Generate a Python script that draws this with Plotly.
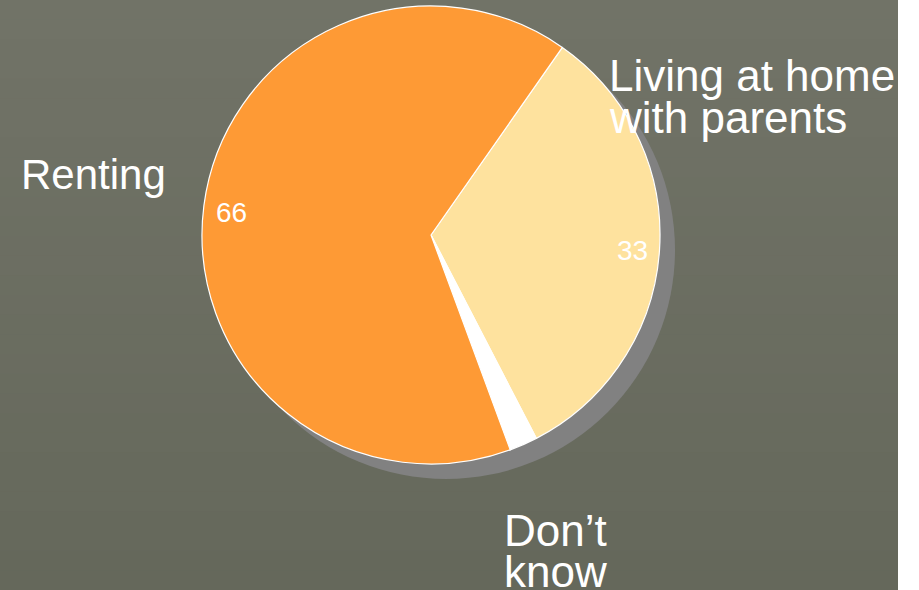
import plotly.graph_objects as go

W, H = 919, 590

categories = ["Living at home with parents", "Don't know", "Renting"]
values = [33, 2, 66]
value_labels = ["33", "", "66"]
colors = ["#FEE29E", "#FFFFFF", "#FE9A35"]

def px_x(x):
    return x / W

def px_y(y):
    return 1 - y / H

fig = go.Figure()

# shadow pie
fig.add_trace(go.Pie(
    values=[1], labels=["shadow"], marker=dict(colors=["#818181"], line=dict(width=0)),
    textinfo="none", hoverinfo="skip", sort=False, showlegend=False,
    domain=dict(x=[px_x(217), px_x(675)], y=[px_y(479), px_y(21)]),
))

fig.add_trace(go.Pie(
    values=values, labels=categories, marker=dict(colors=colors, line=dict(color="white", width=1.2)),
    textinfo="none", sort=False, direction="clockwise", rotation=35, showlegend=False,
    domain=dict(x=[px_x(202), px_x(660)], y=[px_y(464), px_y(6)]),
))

# background with gradient bands
top = (113, 115, 103)
bot = (101, 104, 91)
n = 30
shapes = []
for i in range(n):
    t = i / (n - 1)
    c = tuple(int(round(top[k] + (bot[k] - top[k]) * t)) for k in range(3))
    shapes.append(dict(type="rect", xref="paper", yref="paper",
                       x0=0, x1=px_x(898), y0=px_y((i + 1) * H / n + 1), y1=px_y(i * H / n),
                       fillcolor="rgb(%d,%d,%d)" % c, line=dict(width=0), layer="below"))

fam = "Liberation Sans, Arial, sans-serif"

label_lines = [
    ("Renting", 19, 174, 42),
    ("Living at home", 607, 76, 44),
    ("with parents", 607, 118, 44),
    ("Don\u2019t", 502, 530, 44),
    ("know", 502, 571, 44),
]
annotations = []
for txt, x, y, sz in label_lines:
    annotations.append(dict(text=txt, x=px_x(x), y=px_y(y), xref="paper", yref="paper",
                            xanchor="left", yanchor="middle", showarrow=False,
                            font=dict(family=fam, size=sz, color="white")))

value_pos = [(632, 250), None, (231, 212)]
for lab, pos in zip(value_labels, value_pos):
    if pos is None or not lab:
        continue
    annotations.append(dict(text=lab, x=px_x(pos[0]), y=px_y(pos[1]), xref="paper", yref="paper",
                            xanchor="center", yanchor="middle", showarrow=False,
                            font=dict(family=fam, size=28, color="white")))

fig.update_layout(
    width=W, height=H, margin=dict(l=0, r=0, t=0, b=0),
    paper_bgcolor="white", plot_bgcolor="white",
    shapes=shapes, annotations=annotations, showlegend=False,
)

fig.write_html("out.html")
